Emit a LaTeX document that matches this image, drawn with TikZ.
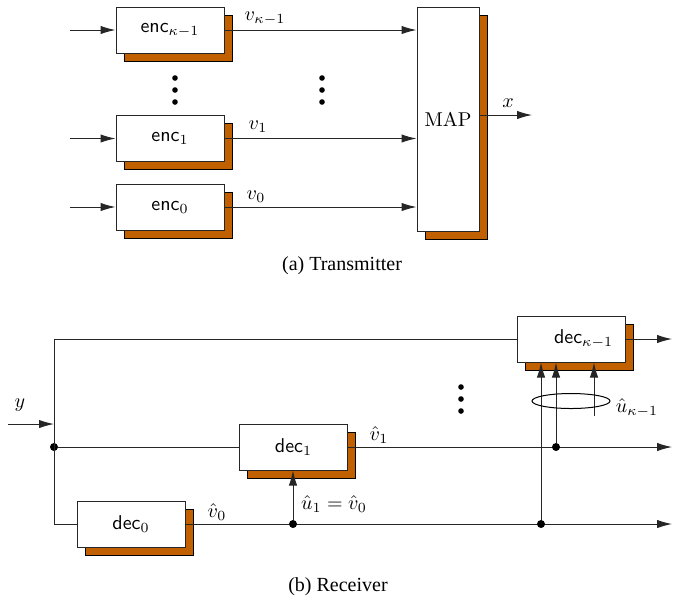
\documentclass[tikz,border=0pt]{standalone}
\usepackage{fontspec}
\newfontfamily\capfont{Liberation Serif}
\usetikzlibrary{arrows.meta,shadows,shapes.geometric}
\definecolor{shad}{RGB}{192,96,0}
\begin{document}
\begin{tikzpicture}[x=0.5pt,y=-0.5pt,
  blk/.style={draw=black!85,fill=white,line width=0.5pt,inner sep=0pt,
    minimum width=54pt,minimum height=23pt,font=\sffamily,
    drop shadow={shadow xshift=4pt,shadow yshift=-4pt,fill=shad,draw=black,opacity=1}},
  ln/.style={line width=0.5pt,draw=black!85},
  arr/.style={ln,-{Latex[length=7.5pt,width=4.2pt]}},
  dot/.style={circle,fill=black,inner sep=0pt,minimum size=4pt},
  sdot/.style={circle,fill=black,inner sep=0pt,minimum size=2.8pt},
  lbl/.style={inner sep=0pt},
  captxt/.style={font=\capfont,inner sep=0pt}]
\useasboundingbox (0,0) rectangle (694,602);

% ---------- Transmitter ----------
\node[blk] (enck) at (170,30) {enc$_{\kappa-1}$};
\node[blk] (enc1) at (170,138.5) {enc$_1$};
\node[blk] (enc0) at (170,207) {enc$_0$};
\node[blk,minimum width=31pt,minimum height=112pt] (map) at (448,119) {\rmfamily MAP};

\coordinate (ik) at (70,30);
\coordinate (i1) at (70,138.5);
\coordinate (i0) at (70,207);
\draw[arr] (ik) -- (enck.west);
\draw[arr] (i1) -- (enc1.west);
\draw[arr] (i0) -- (enc0.west);

\draw[arr] (enck.east) -- (map.west |- enck.east);
\draw[arr] (enc1.east) -- (map.west |- enc1.east);
\draw[arr] (enc0.east) -- (map.west |- enc0.east);

\coordinate (xout) at (532,115);
\draw[arr] (map.east |- xout) -- (xout);

\node[lbl] (lvk) at (265,19) {$v_{\kappa-1}$};
\node[lbl] (lv1) at (258,127) {$v_1$};
\node[lbl] (lv0) at (256,197) {$v_0$};
\node[lbl] (lx) at (508,103) {$x$};

\foreach \yy [count=\i] in {78,90,102} {
  \node[sdot] (da\i) at (175,\yy) {};
  \node[sdot] (db\i) at (322,\yy) {};
}

\node[captxt] (capa) at (342,266) {(a) Transmitter};

% ---------- Receiver ----------
\node[blk] (deck) at (571.5,339) {\hspace*{12pt}dec$_{\kappa-1}$};
\node[blk] (dec1) at (293.5,447) {dec$_1$};
\node[blk] (dec0) at (131,524) {dec$_0$};

\coordinate (tl) at (54,339);
\coordinate (bl) at (54,524);
\node[dot] (j) at (54,447) {};
\coordinate (yin) at (8,424);
\coordinate (yend) at (54,424);

\draw[ln] (deck.west) -- (tl) -- (bl) -- (dec0.west);
\draw[ln] (j) -- (dec1.west);
\draw[arr] (yin) -- (yend);

\coordinate (ok) at (672,339);
\coordinate (o1) at (672,447);
\coordinate (o0) at (672,524);
\draw[arr] (deck.east) -- (ok);
\draw[arr] (dec1.east) -- (o1);
\draw[arr] (dec0.east) -- (o0);

\node[dot] (d01) at (293,524) {};
\node[dot] (d0k) at (541,524) {};
\node[dot] (d1k) at (556,447) {};
\coordinate (uk) at (594,416);
\draw[arr] (d01) -- (d01 |- dec1.south);
\draw[arr] (d0k) -- (d0k |- deck.south);
\draw[arr] (d1k) -- (d1k |- deck.south);
\draw[arr] (uk) -- (uk |- deck.south);

\node[draw,ellipse,line width=0.5pt,minimum width=39pt,minimum height=7.5pt,inner sep=0pt] (ell) at (571,401) {};

\foreach \yy [count=\i] in {387,399,411} {
  \node[sdot] (dc\i) at (461,\yy) {};
}

\node[lbl] (ly) at (20,405) {$y$};
\node[lbl] (lw1) at (379,435) {$\hat v_1$};
\node[lbl] (lw0) at (217,512) {$\hat v_0$};
\node[lbl] (lu1) at (334,504) {$\hat u_1=\hat v_0$};
\node[lbl] (luk) at (637,408) {$\hat u_{\kappa-1}$};

\node[captxt] (capb) at (338,587) {(b) Receiver};
\end{tikzpicture}
\end{document}
